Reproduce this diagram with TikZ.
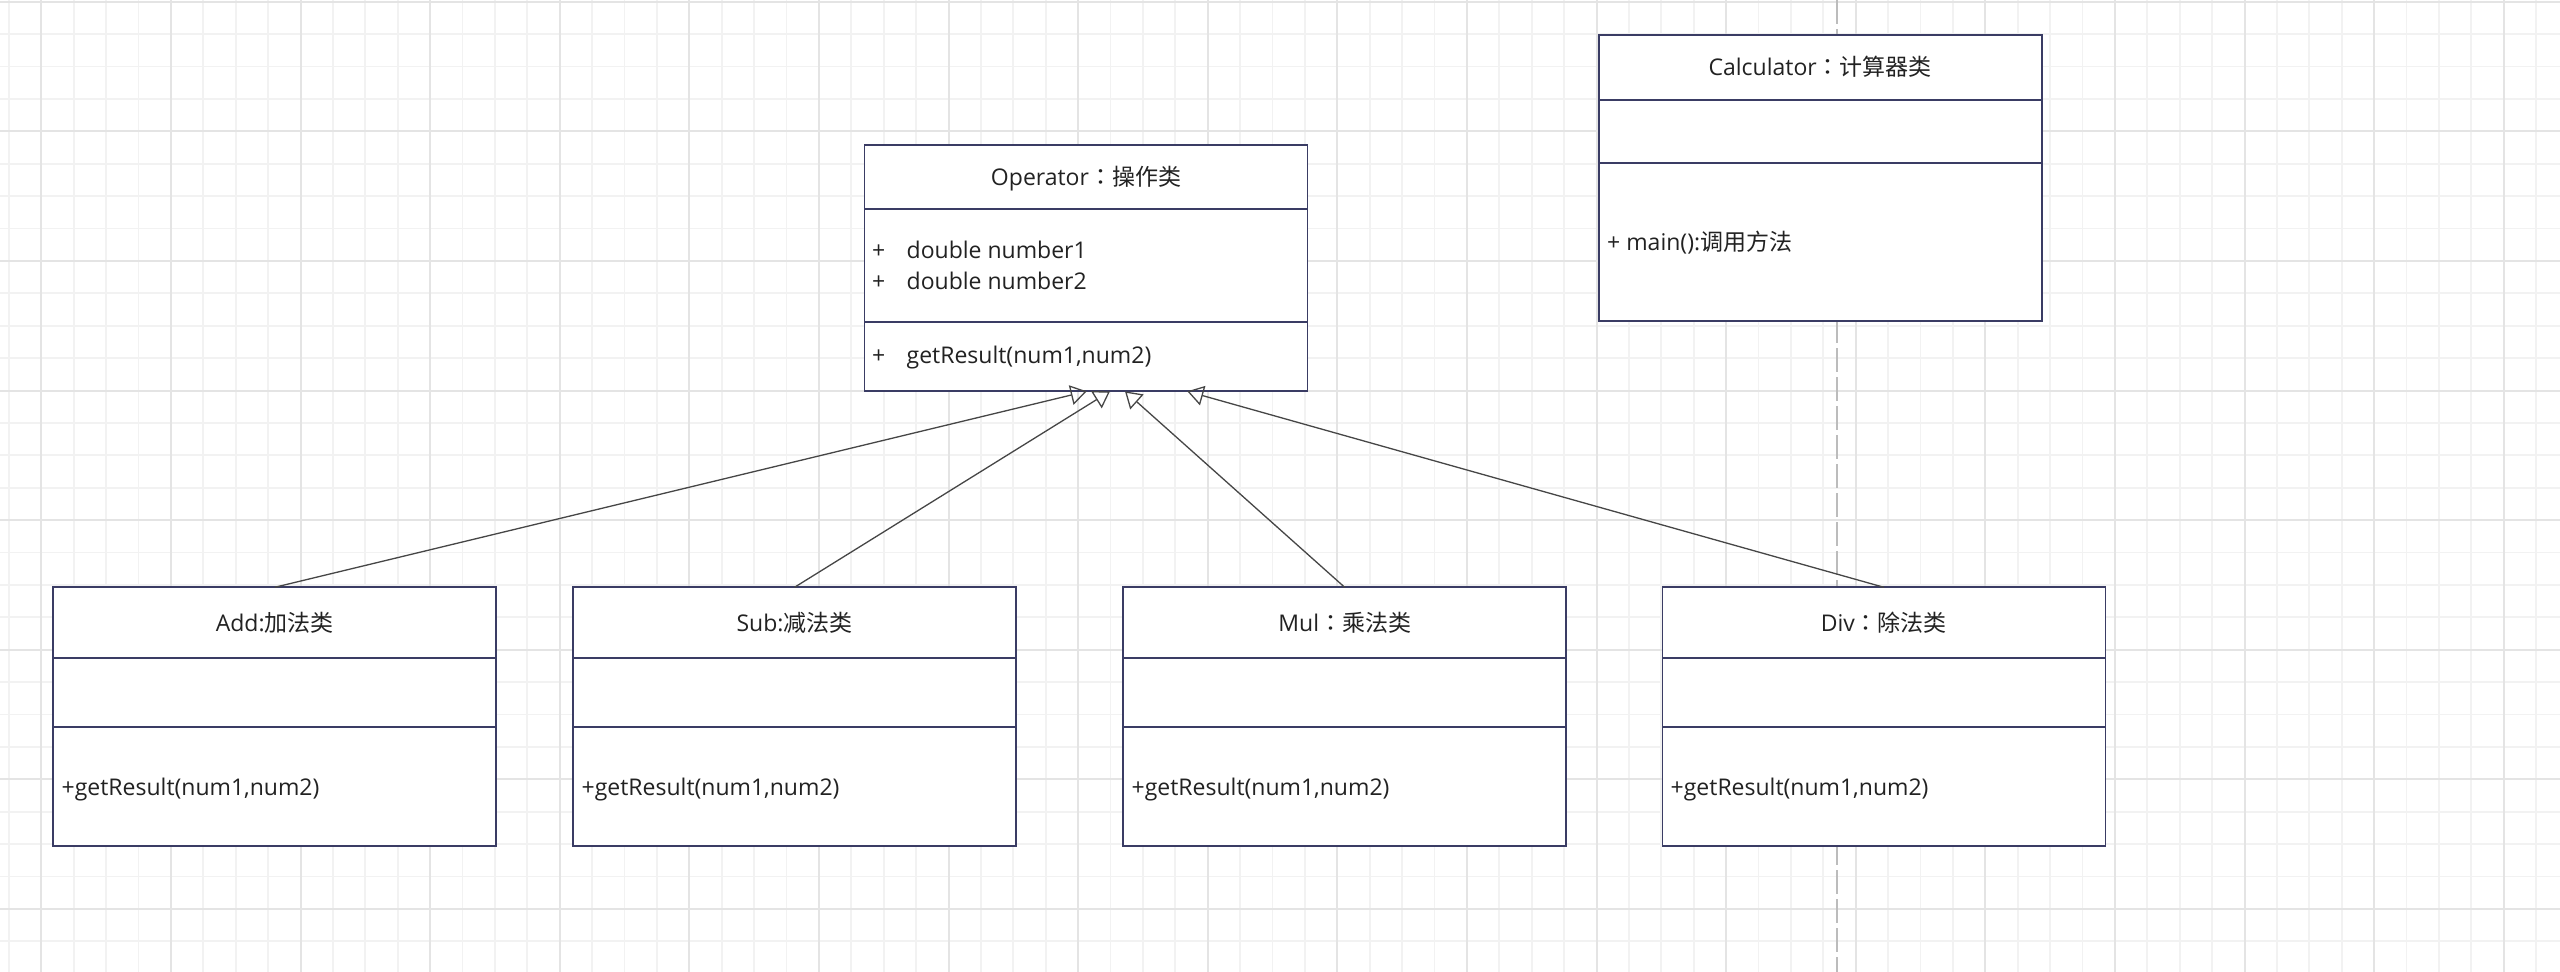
\documentclass[tikz,border=0pt]{standalone}
\usepackage{fontspec}
\setmainfont{Open Sans}
\newfontfamily\zhfont{Noto Sans CJK SC}
\newfontfamily\colonfont{Noto Sans CJK TC}
\newcommand{\zh}[1]{{\zhfont #1}}
\newcommand{\fwc}{{\colonfont ：}}
\usetikzlibrary{arrows.meta,calc}
\definecolor{boxline}{RGB}{58,60,100}
\definecolor{gridminor}{RGB}{242,242,242}
\definecolor{gridmajor}{RGB}{228,228,228}
\definecolor{dashgray}{RGB}{188,188,188}
\definecolor{txt}{RGB}{34,34,34}
\definecolor{conn}{RGB}{70,70,70}
\tikzset{
  umlbox/.style={draw=boxline, fill=white, line width=1.7pt, minimum width=443pt, inner sep=0pt, outer sep=0pt},
  sepline/.style={draw=boxline, line width=1.7pt},
  lbl/.style={inner sep=0pt, text=txt, font=\fontsize{23}{28}\selectfont},
  inherit/.style={draw=conn, line width=1.3pt, -{Triangle[open, length=16pt, width=20pt, line width=1.3pt]}},
  minorline/.style={draw=gridminor, line width=1.8pt},
  majorline/.style={draw=gridmajor, line width=2pt},
  guide/.style={draw=dashgray, line width=2pt, dash pattern=on 24pt off 5pt}
}
\begin{document}
\begin{tikzpicture}[x=1pt,y=-1pt]
\useasboundingbox (0,0) rectangle (2560,972);
\fill[white] (0,0) rectangle (2560,972);
\begin{scope}
  \clip (0,0) rectangle (2560,972);
  \foreach \i in {-1,...,78} \draw[minorline] ({41.3+32.4*\i},0) -- ({41.3+32.4*\i},972);
  \foreach \j in {0,...,30} \draw[minorline] (0,{1.7+32.4*\j}) -- (2560,{1.7+32.4*\j});
  \foreach \i in {0,...,19} \draw[majorline] ({41.3+129.6*\i},0) -- ({41.3+129.6*\i},972);
  \foreach \j in {0,...,7} \draw[majorline] (0,{1.7+129.6*\j}) -- (2560,{1.7+129.6*\j});
  \draw[guide] (1837.3,0) -- (1837.3,972);
\end{scope}

% class boxes
\node[umlbox, minimum height=246.6pt] (op) at (1086,268) {};
\node[umlbox, minimum height=286pt] (calc) at (1820.2,177.7) {};
\node[umlbox, minimum height=258.7pt] (add) at (274.7,716.65) {};
\node[umlbox, minimum height=258.7pt] (sub) at (794.5,716.65) {};
\node[umlbox, minimum height=258.7pt] (mul) at (1344.7,716.65) {};
\node[umlbox, minimum height=258.7pt] (div) at (1883.9,716.65) {};

% compartments
\draw[sepline] ($(op.north west)+(0,64.6)$) -- ($(op.north east)+(0,64.6)$);
\draw[sepline] ($(op.north west)+(0,177.3)$) -- ($(op.north east)+(0,177.3)$);
\draw[sepline] ($(calc.north west)+(0,65.3)$) -- ($(calc.north east)+(0,65.3)$);
\draw[sepline] ($(calc.north west)+(0,128.6)$) -- ($(calc.north east)+(0,128.6)$);
\foreach \b in {add,sub,mul,div} {
  \draw[sepline] ($(\b.north west)+(0,71)$) -- ($(\b.north east)+(0,71)$);
  \draw[sepline] ($(\b.north west)+(0,139.4)$) -- ($(\b.north east)+(0,139.4)$);
}

% Operator texts
\node[lbl, anchor=base] (opT) at (1086,185) {Operator\fwc\zh{操作类}};
\node[lbl, anchor=base west] (opP1) at (872,258.3) {+};
\node[lbl, anchor=base west] (opA1) at (906.5,258.3) {double number1};
\node[lbl, anchor=base west] (opP2) at (872,289.3) {+};
\node[lbl, anchor=base west] (opA2) at (906.5,289.3) {double number2};
\node[lbl, anchor=base west] (opP3) at (872,363.3) {+};
\node[lbl, anchor=base west] (opM) at (906.5,363.3) {getResult(num1,num2)};

% Calculator texts
\node[lbl, anchor=base] (calT) at (1820.2,75) {Calculator\fwc\zh{计算器类}};
\node[lbl, anchor=base west] (calM) at (1607,250.7) {+ main():\zh{调用方法}};

% subclass texts
\node[lbl, anchor=base] (addT) at (274.7,631.7) {Add:\zh{加法类}};
\node[lbl, anchor=base] (subT) at (794.5,631.7) {Sub:\zh{减法类}};
\node[lbl, anchor=base] (mulT) at (1344.7,631.7) {Mul\fwc\zh{乘法类}};
\node[lbl, anchor=base] (divT) at (1883.9,631.7) {Div\fwc\zh{除法类}};
\node[lbl, anchor=base west] (addM) at (61.5,795) {+getResult(num1,num2)};
\node[lbl, anchor=base west] (subM) at (581.5,795) {+getResult(num1,num2)};
\node[lbl, anchor=base west] (mulM) at (1131.5,795) {+getResult(num1,num2)};
\node[lbl, anchor=base west] (divM) at (1670.5,795) {+getResult(num1,num2)};

% inheritance connectors
\coordinate (tA) at (1086.7,391.3);
\coordinate (tS) at (1110,391.3);
\coordinate (tM) at (1125,391.3);
\coordinate (tD) at (1187.3,391.3);
\draw[inherit] (add.north) -- (tA);
\draw[inherit] (sub.north) -- (tS);
\draw[inherit] (mul.north) -- (tM);
\draw[inherit] (div.north) -- (tD);
\end{tikzpicture}
\end{document}
